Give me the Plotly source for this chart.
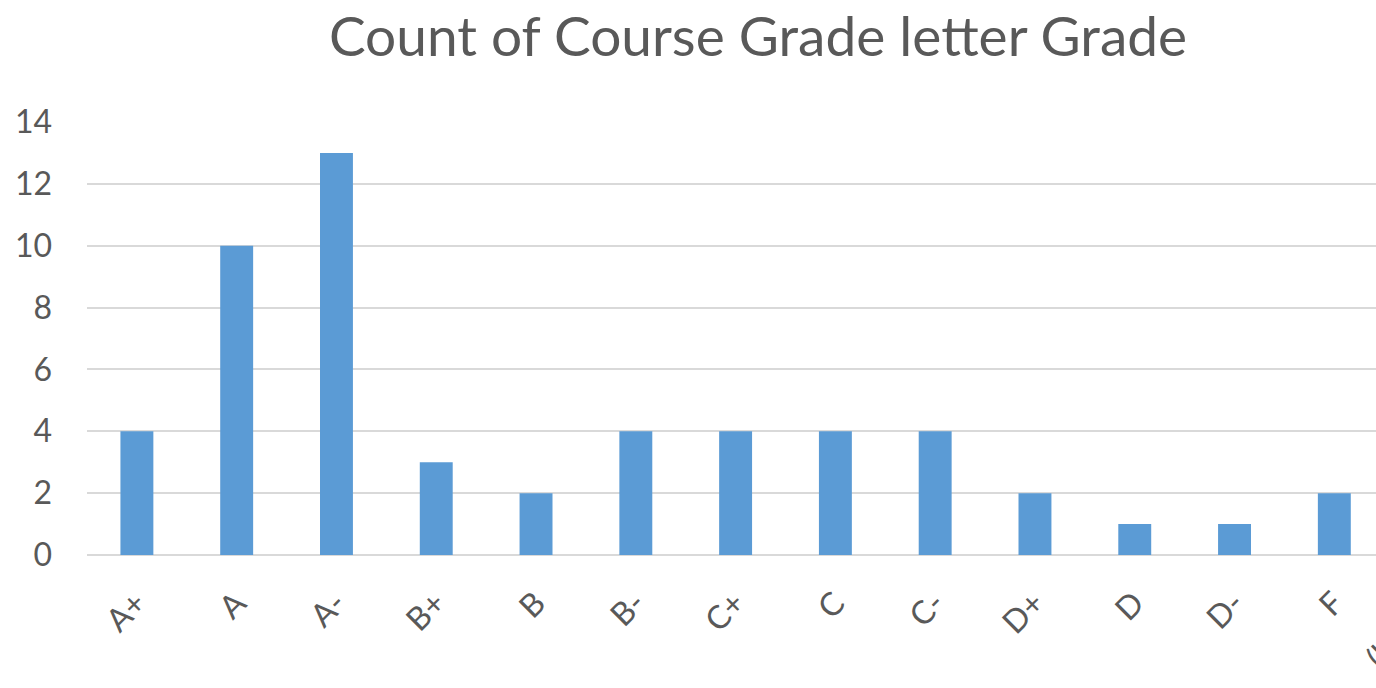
import plotly.graph_objects as go

grades = ["A+", "A", "A-", "B+", "B", "B-", "C+", "C", "C-", "D+", "D", "D-", "F", "(blank)"]
counts = [4, 10, 13, 3, 2, 4, 4, 4, 4, 2, 1, 1, 2, None]
y_ticks = [0, 2, 4, 6, 8, 10, 12, 14]

TEXT = "#595959"
FONT = "Lato"

fig = go.Figure(
    go.Bar(
        x=grades,
        y=counts,
        width=0.33,
        marker=dict(color="#5B9BD5", line=dict(width=0)),
    )
)

fig.update_layout(
    width=1516,
    height=688,
    margin=dict(l=87, r=32, t=122, b=130),
    paper_bgcolor="white",
    plot_bgcolor="white",
    showlegend=False,
    font=dict(family=FONT, color=TEXT, size=32),
    title=dict(
        text="Count of Course Grade letter Grade",
        x=0.5,
        xanchor="center",
        xref="container",
        y=0.975,
        yanchor="top",
        font=dict(family=FONT, size=55, color=TEXT),
    ),
    xaxis=dict(
        type="category",
        categoryorder="array",
        categoryarray=grades,
        range=[-0.5, len(grades) - 0.5],
        tickangle=-45,
        showgrid=False,
        showline=False,
        ticks="",
        ticklabelstandoff=22,
        tickfont=dict(family=FONT, size=32, color=TEXT),
    ),
    yaxis=dict(
        range=[0, 14],
        tickvals=y_ticks,
        showgrid=True,
        gridcolor="#D9D9D9",
        gridwidth=2,
        zeroline=True,
        zerolinecolor="#D9D9D9",
        zerolinewidth=2,
        showline=False,
        ticks="",
        ticklabelstandoff=34,
        tickfont=dict(family=FONT, size=32, color=TEXT),
    ),
)

post = (
    "document.documentElement.style.overflow='hidden';"
    "document.body.style.overflow='hidden';"
    "document.body.style.margin='0';"
)
fig.write_html("out.html", post_script=post, config={"displayModeBar": False})
